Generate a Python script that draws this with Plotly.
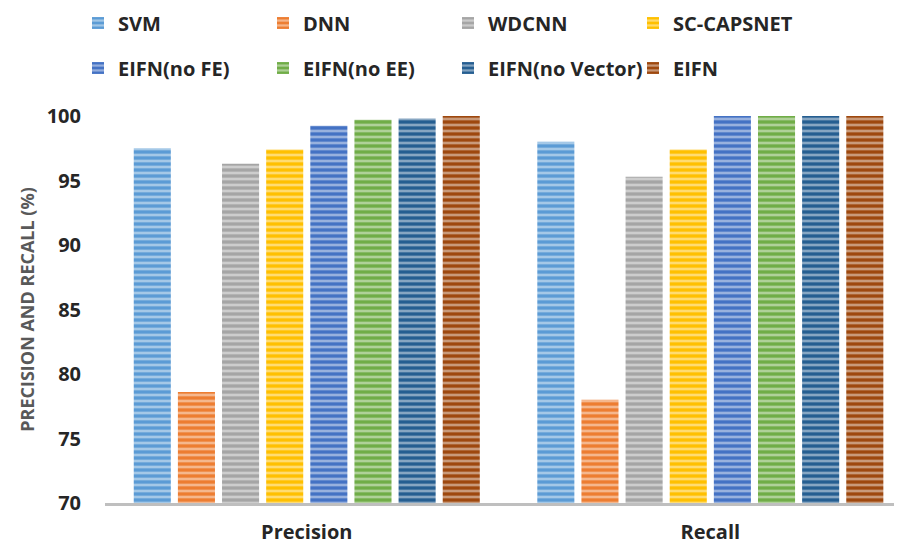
import plotly.graph_objects as go

categories = ["Precision", "Recall"]
series_names = ["SVM", "DNN", "WDCNN", "SC-CAPSNET",
                "EIFN(no FE)", "EIFN(no EE)", "EIFN(no Vector)", "EIFN"]
svm = [97.5, 98.0]
dnn = [78.6, 78.0]
wdcnn = [96.3, 95.3]
sc_capsnet = [97.4, 97.4]
eifn_no_fe = [99.25, 100.0]
eifn_no_ee = [99.7, 100.0]
eifn_no_vector = [99.8, 100.0]
eifn = [100.0, 100.0]
y_ticks = [70, 75, 80, 85, 90, 95, 100]

values = [svm, dnn, wdcnn, sc_capsnet, eifn_no_fe, eifn_no_ee, eifn_no_vector, eifn]
base_colors = ["#5B9BD5", "#ED7D31", "#A5A5A5", "#FFC000",
               "#4472C4", "#70AD47", "#255E91", "#9E480E"]


def lighten(hex_color, f):
    h = hex_color.lstrip("#")
    r, g, b = (int(h[i:i + 2], 16) for i in (0, 2, 4))
    r = int(r + (255 - r) * f)
    g = int(g + (255 - g) * f)
    b = int(b + (255 - b) * f)
    return f"#{r:02x}{g:02x}{b:02x}"


FONT = "Open Sans"
# page body has an 8px default margin; figure is sized/offset to compensate
W, H = 894, 537
L, T, B = 97, 108, 42

fig = go.Figure()
for i, (name, vals, col) in enumerate(zip(series_names, values, base_colors)):
    fig.add_trace(go.Bar(
        x=categories, y=vals, name=name,
        marker=dict(
            color=col,
            line=dict(width=0),
            pattern=dict(shape="-", size=6, solidity=0.45,
                         fgcolor=lighten(col, 0.45), bgcolor=col,
                         fillmode="replace"),
        ),
        legend="legend" if i < 4 else "legend2",
    ))

legend_common = dict(
    orientation="h",
    font=dict(family=FONT, size=20, color="#262626", weight="bold"),
    entrywidth=140, entrywidthmode="pixels",
    bgcolor="rgba(0,0,0,0)", borderwidth=0,
    xref="container", yref="container",
    xanchor="left", yanchor="middle",
    traceorder="normal",
)
leg_x = 70 / W
fig.update_layout(
    width=W, height=H,
    margin=dict(l=L, r=0, t=T, b=B, pad=0, autoexpand=False),
    paper_bgcolor="white", plot_bgcolor="white",
    barmode="group", bargap=0.125, bargroupgap=0.16,
    legend=dict(x=leg_x, y=1 - 15 / H, **legend_common),
    legend2=dict(x=leg_x, y=1 - 60 / H, **legend_common),
    font=dict(family=FONT),
)
fig.update_yaxes(
    range=[70, 100], tickvals=y_ticks, showgrid=False, zeroline=False,
    showline=False, ticks="", ticklabelstandoff=23,
    tickfont=dict(family=FONT, size=20, color="#262626", weight="bold"),
    title=dict(text="PRECISION AND RECALL (%)", standoff=7,
               font=dict(family=FONT, size=18, color="#595959", weight="bold")),
)
fig.update_xaxes(
    range=[-0.5, 1.475],
    showline=True, linecolor="#BFBFBF", linewidth=3, showgrid=False,
    ticks="", ticklabelstandoff=9,
    tickfont=dict(family=FONT, size=20, color="#262626", weight="bold"),
)
fig.write_html("out.html")
